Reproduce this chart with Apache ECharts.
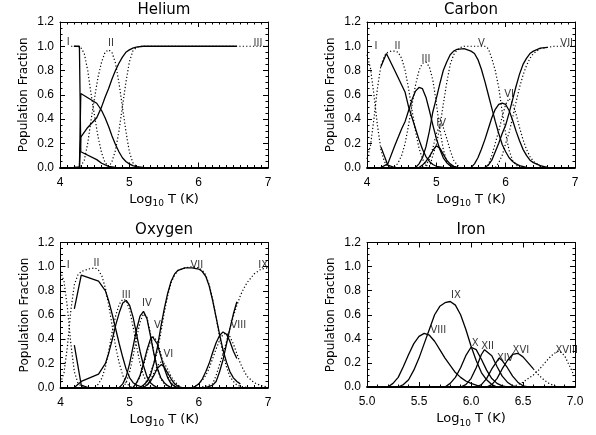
<!DOCTYPE html>
<html>
<head>
<meta charset="utf-8">
<script src="https://cdn.jsdelivr.net/npm/echarts@6/dist/echarts.min.js"></script>
<style>
html,body{margin:0;padding:0;background:#fff}
#chart{width:596px;height:435px}
</style>
</head>
<body>
<div id="chart"></div>
<script>
// Ionization equilibrium population fractions vs log10 T.
// Each curve is a list of [log10 T, fraction] samples.
// "sol" curves are drawn solid, "dot" curves dotted.

// ---- Helium ----
const heDotI   = [[4.16,1.0],[4.2,1.0],[4.25,1.0],[4.3,0.99],[4.35,0.94],[4.4,0.8],[4.45,0.6],[4.5,0.42],[4.55,0.25],[4.6,0.12],[4.65,0.04],[4.7,0.01],[4.75,0]];
const heDotII  = [[4.25,0],[4.3,0.01],[4.35,0.06],[4.4,0.2],[4.45,0.4],[4.5,0.58],[4.55,0.75],[4.6,0.87],[4.65,0.95],[4.7,0.97],[4.75,0.95],[4.8,0.86],[4.85,0.7],[4.9,0.5],[4.95,0.3],[5.0,0.13],[5.05,0.04],[5.1,0.01],[5.15,0]];
const heDotIII = [[4.7,0],[4.75,0.05],[4.8,0.14],[4.85,0.3],[4.9,0.5],[4.95,0.7],[5.0,0.87],[5.05,0.96],[5.1,0.99],[5.15,1.0],[6.5,1.0],[7.0,1.0]];
const heSolI   = [[4.2,1.0],[4.28,1.0],[4.3,0.13],[4.53,0.065],[4.6,0.035],[4.7,0.01],[4.8,0]];
const heSolII  = [[4.2,0],[4.28,0],[4.3,0.61],[4.53,0.53],[4.6,0.47],[4.65,0.41],[4.7,0.34],[4.75,0.26],[4.8,0.19],[4.85,0.13],[4.9,0.08],[4.95,0.05],[5.0,0.03],[5.05,0.015],[5.1,0.007],[5.2,0]];
const heSolIII = [[4.2,0],[4.28,0],[4.3,0.25],[4.4,0.33],[4.53,0.41],[4.6,0.5],[4.65,0.58],[4.7,0.65],[4.75,0.73],[4.8,0.8],[4.85,0.86],[4.9,0.91],[4.95,0.95],[5.0,0.97],[5.05,0.985],[5.1,0.993],[5.2,1.0],[6.55,1.0]];
const heLabels = [['I',4.12,1.035],['II',4.735,1.027],['III',6.856,1.02]];

// ---- Carbon ----
const cDotI   = [[4.0,0.93],[4.05,0.82],[4.1,0.6],[4.15,0.35],[4.2,0.15],[4.25,0.05],[4.3,0.01],[4.35,0]];
const cDotII  = [[4.0,0.07],[4.05,0.18],[4.1,0.4],[4.15,0.65],[4.2,0.84],[4.25,0.92],[4.3,0.95],[4.35,0.96],[4.4,0.96],[4.45,0.95],[4.5,0.9],[4.55,0.8],[4.6,0.65],[4.65,0.47],[4.7,0.3],[4.75,0.16],[4.8,0.07],[4.85,0.02],[4.9,0]];
const cDotIII = [[4.4,0],[4.45,0.04],[4.5,0.1],[4.55,0.2],[4.6,0.35],[4.65,0.52],[4.7,0.68],[4.75,0.8],[4.8,0.86],[4.85,0.87],[4.9,0.83],[4.95,0.72],[5.0,0.53],[5.05,0.32],[5.1,0.15],[5.15,0.05],[5.2,0.01],[5.25,0]];
const cDotIV  = [[4.8,0],[4.85,0.02],[4.9,0.07],[4.95,0.16],[5.0,0.28],[5.05,0.35],[5.1,0.33],[5.15,0.24],[5.2,0.14],[5.25,0.06],[5.3,0.02],[5.35,0]];
const cDotV   = [[4.9,0],[4.95,0.1],[5.0,0.19],[5.05,0.33],[5.1,0.52],[5.15,0.7],[5.2,0.85],[5.25,0.93],[5.3,0.97],[5.35,0.99],[5.4,1.0],[5.7,1.0],[5.75,0.98],[5.8,0.9],[5.85,0.8],[5.9,0.66],[5.95,0.46],[6.0,0.28],[6.05,0.14],[6.1,0.06],[6.15,0.02],[6.2,0]];
const cDotVI  = [[5.7,0],[5.75,0.02],[5.8,0.1],[5.85,0.2],[5.9,0.3],[5.95,0.42],[6.0,0.52],[6.05,0.57],[6.1,0.53],[6.15,0.44],[6.2,0.33],[6.25,0.23],[6.3,0.15],[6.35,0.09],[6.4,0.05],[6.45,0.03],[6.5,0.01],[6.6,0]];
const cDotVII = [[5.85,0],[5.9,0.04],[5.95,0.1],[6.0,0.2],[6.05,0.29],[6.1,0.41],[6.15,0.54],[6.2,0.66],[6.25,0.76],[6.3,0.84],[6.35,0.9],[6.4,0.94],[6.45,0.96],[6.5,0.98],[6.6,0.99],[6.7,1.0],[7.0,1.0]];
const cSolI   = [[4.2,0.17],[4.3,0.02],[4.4,0]];
const cSolII  = [[4.2,0.83],[4.28,0.94],[4.4,0.8],[4.5,0.68],[4.55,0.62],[4.6,0.5],[4.65,0.41],[4.7,0.32],[4.75,0.23],[4.8,0.15],[4.85,0.09],[4.9,0.05],[4.95,0.025],[5.0,0.01],[5.1,0]];
const cSolIII = [[4.2,0],[4.3,0.03],[4.4,0.18],[4.5,0.32],[4.55,0.38],[4.6,0.47],[4.65,0.56],[4.7,0.63],[4.75,0.66],[4.8,0.65],[4.85,0.58],[4.9,0.47],[4.95,0.35],[5.0,0.24],[5.05,0.15],[5.1,0.08],[5.15,0.04],[5.2,0.015],[5.3,0]];
const cSolIV  = [[4.75,0],[4.8,0.02],[4.85,0.05],[4.9,0.09],[4.95,0.14],[5.0,0.18],[5.05,0.16],[5.1,0.11],[5.15,0.06],[5.2,0.03],[5.25,0.01],[5.3,0]];
const cSolV   = [[4.7,0],[4.75,0.03],[4.8,0.08],[4.85,0.17],[4.9,0.3],[4.95,0.46],[5.0,0.57],[5.05,0.69],[5.1,0.8],[5.15,0.87],[5.2,0.93],[5.25,0.96],[5.3,0.975],[5.4,0.98],[5.5,0.96],[5.55,0.94],[5.6,0.89],[5.65,0.81],[5.7,0.71],[5.75,0.6],[5.8,0.49],[5.85,0.38],[5.9,0.28],[5.95,0.19],[6.0,0.13],[6.05,0.08],[6.1,0.05],[6.15,0.03],[6.2,0.015],[6.3,0]];
const cSolVI  = [[5.5,0],[5.55,0.03],[5.6,0.08],[5.65,0.15],[5.7,0.23],[5.75,0.32],[5.8,0.41],[5.85,0.48],[5.9,0.52],[5.95,0.53],[6.0,0.52],[6.05,0.47],[6.1,0.39],[6.15,0.3],[6.2,0.22],[6.25,0.15],[6.3,0.1],[6.35,0.06],[6.4,0.04],[6.5,0.015],[6.6,0]];
const cSolVII = [[5.7,0],[5.75,0.02],[5.8,0.06],[5.85,0.13],[5.9,0.2],[5.95,0.28],[6.0,0.35],[6.05,0.45],[6.1,0.56],[6.15,0.67],[6.2,0.77],[6.25,0.85],[6.3,0.9],[6.35,0.94],[6.4,0.96],[6.5,0.985],[6.6,0.99]];
const cLabels = [['I',4.13,1.0],['II',4.44,1.0],['III',4.85,0.89],['IV',5.07,0.364],['V',5.65,1.024],['VI',6.05,0.6],['VII',6.88,1.024]];

// ---- Oxygen ----
const oDotI    = [[4.0,0.96],[4.05,0.88],[4.1,0.66],[4.15,0.36],[4.2,0.13],[4.25,0.04],[4.3,0.01],[4.35,0]];
const oDotII   = [[4.0,0.04],[4.05,0.12],[4.1,0.34],[4.15,0.64],[4.2,0.85],[4.25,0.93],[4.3,0.96],[4.4,0.98],[4.5,0.99],[4.55,0.97],[4.6,0.92],[4.65,0.82],[4.7,0.67],[4.75,0.5],[4.8,0.33],[4.85,0.2],[4.9,0.1],[4.95,0.04],[5.0,0.01],[5.05,0]];
const oDotIII  = [[4.5,0],[4.55,0.03],[4.6,0.08],[4.65,0.17],[4.7,0.31],[4.75,0.47],[4.8,0.6],[4.85,0.69],[4.9,0.73],[4.95,0.72],[5.0,0.64],[5.05,0.5],[5.1,0.34],[5.15,0.2],[5.2,0.1],[5.25,0.04],[5.3,0.01],[5.35,0]];
const oDotIV   = [[4.9,0],[4.95,0.04],[5.0,0.13],[5.05,0.26],[5.1,0.41],[5.15,0.54],[5.2,0.61],[5.25,0.58],[5.3,0.45],[5.35,0.29],[5.4,0.16],[5.45,0.07],[5.5,0.03],[5.55,0.01],[5.6,0]];
const oDotV    = [[5.05,0],[5.1,0.03],[5.15,0.09],[5.2,0.18],[5.25,0.29],[5.3,0.38],[5.35,0.42],[5.4,0.38],[5.45,0.28],[5.5,0.17],[5.55,0.09],[5.6,0.04],[5.65,0.01],[5.7,0]];
const oDotVI   = [[5.2,0],[5.25,0.02],[5.3,0.06],[5.35,0.12],[5.4,0.18],[5.45,0.21],[5.5,0.2],[5.55,0.15],[5.6,0.09],[5.65,0.05],[5.7,0.02],[5.75,0]];
const oDotVII  = [[5.2,0],[5.25,0.05],[5.3,0.12],[5.35,0.2],[5.4,0.3],[5.45,0.45],[5.5,0.62],[5.55,0.76],[5.6,0.87],[5.65,0.93],[5.7,0.97],[5.8,0.99],[5.9,1.0],[6.0,0.99],[6.05,0.97],[6.1,0.93],[6.15,0.85],[6.2,0.73],[6.25,0.58],[6.3,0.42],[6.35,0.28],[6.4,0.17],[6.45,0.09],[6.5,0.05],[6.55,0.02],[6.6,0.01],[6.7,0]];
const oDotVIII = [[5.9,0],[5.95,0.01],[6.0,0.03],[6.05,0.06],[6.1,0.1],[6.15,0.16],[6.2,0.24],[6.25,0.32],[6.3,0.39],[6.35,0.44],[6.4,0.45],[6.45,0.42],[6.5,0.36],[6.55,0.28],[6.6,0.2],[6.65,0.14],[6.7,0.09],[6.8,0.04],[6.9,0.015],[7.0,0.005]];
const oDotIX   = [[6.0,0],[6.1,0.01],[6.2,0.03],[6.25,0.1],[6.3,0.19],[6.35,0.28],[6.4,0.38],[6.45,0.49],[6.5,0.59],[6.55,0.68],[6.6,0.76],[6.65,0.82],[6.7,0.87],[6.8,0.94],[6.9,0.98],[7.0,0.99]];
const oSolI    = [[4.2,0.35],[4.3,0.02],[4.4,0]];
const oSolII   = [[4.2,0.65],[4.3,0.93],[4.55,0.88],[4.65,0.8],[4.7,0.71],[4.75,0.6],[4.8,0.48],[4.85,0.36],[4.9,0.25],[4.95,0.15],[5.0,0.08],[5.05,0.04],[5.1,0.02],[5.2,0]];
const oSolIII  = [[4.2,0],[4.3,0.05],[4.55,0.11],[4.65,0.2],[4.7,0.29],[4.75,0.4],[4.8,0.52],[4.85,0.62],[4.9,0.7],[4.95,0.72],[5.0,0.68],[5.05,0.58],[5.1,0.44],[5.15,0.3],[5.2,0.18],[5.25,0.09],[5.3,0.04],[5.35,0.015],[5.4,0]];
const oSolIV   = [[4.85,0],[4.9,0.03],[4.95,0.09],[5.0,0.2],[5.05,0.34],[5.1,0.48],[5.15,0.59],[5.2,0.63],[5.25,0.57],[5.3,0.43],[5.35,0.28],[5.4,0.16],[5.45,0.08],[5.5,0.04],[5.55,0.015],[5.6,0]];
const oSolV    = [[5.05,0],[5.1,0.04],[5.15,0.1],[5.2,0.2],[5.25,0.31],[5.3,0.4],[5.33,0.42],[5.4,0.36],[5.45,0.26],[5.5,0.16],[5.55,0.08],[5.6,0.03],[5.65,0.01],[5.7,0]];
const oSolVI   = [[5.2,0],[5.25,0.02],[5.3,0.05],[5.35,0.1],[5.4,0.16],[5.46,0.19],[5.5,0.17],[5.55,0.12],[5.6,0.07],[5.65,0.03],[5.7,0.01],[5.75,0]];
const oSolVII  = [[5.15,0],[5.2,0.02],[5.25,0.05],[5.3,0.1],[5.35,0.2],[5.4,0.33],[5.45,0.5],[5.5,0.65],[5.55,0.78],[5.6,0.88],[5.65,0.94],[5.7,0.97],[5.8,0.99],[5.9,0.99],[6.0,0.98],[6.05,0.96],[6.1,0.92],[6.15,0.84],[6.2,0.72],[6.25,0.58],[6.3,0.44],[6.35,0.31],[6.4,0.21],[6.45,0.13],[6.5,0.08],[6.55,0.05],[6.6,0.03]];
const oSolVIII = [[5.9,0],[5.95,0.01],[6.0,0.03],[6.05,0.07],[6.1,0.13],[6.15,0.2],[6.2,0.29],[6.25,0.37],[6.3,0.43],[6.35,0.46],[6.4,0.44],[6.45,0.38],[6.5,0.3],[6.55,0.24]];
const oSolIX   = [[6.1,0],[6.15,0.01],[6.2,0.02],[6.25,0.05],[6.3,0.13],[6.35,0.23],[6.4,0.36],[6.45,0.49],[6.5,0.61],[6.55,0.71]];
const oLabels = [['I',4.11,1.014],['II',4.52,1.028],['III',4.95,0.766],['IV',5.25,0.697],['V',5.4,0.517],['VI',5.56,0.275],['VII',5.97,1.014],['VIII',6.57,0.517],['IX',6.93,1.014]];

// ---- Iron ----
const feSolVIII = [[5.2,0],[5.25,0.03],[5.3,0.08],[5.35,0.17],[5.4,0.27],[5.45,0.36],[5.5,0.42],[5.55,0.445],[5.6,0.43],[5.65,0.38],[5.7,0.31],[5.75,0.24],[5.8,0.18],[5.85,0.12],[5.9,0.08],[5.95,0.05],[6.0,0.03],[6.05,0.015],[6.1,0]];
const feSolIX   = [[5.3,0],[5.35,0.02],[5.4,0.06],[5.45,0.14],[5.5,0.24],[5.55,0.36],[5.6,0.48],[5.65,0.6],[5.7,0.67],[5.75,0.7],[5.8,0.71],[5.85,0.68],[5.9,0.6],[5.95,0.48],[6.0,0.34],[6.05,0.22],[6.1,0.12],[6.15,0.06],[6.2,0.02],[6.25,0]];
const feSolX    = [[5.75,0],[5.8,0.03],[5.85,0.08],[5.9,0.16],[5.95,0.26],[6.0,0.33],[6.05,0.31],[6.1,0.23],[6.15,0.14],[6.2,0.07],[6.25,0.03],[6.3,0.01],[6.35,0]];
const feSolXII  = [[5.9,0],[5.95,0.02],[6.0,0.07],[6.05,0.16],[6.1,0.27],[6.13,0.31],[6.2,0.26],[6.25,0.17],[6.3,0.09],[6.35,0.04],[6.4,0.01],[6.45,0]];
const feSolXIV  = [[6.05,0],[6.1,0.02],[6.15,0.07],[6.2,0.15],[6.27,0.24],[6.3,0.22],[6.35,0.16],[6.4,0.09],[6.45,0.04],[6.5,0.01],[6.55,0]];
const feSolXVI  = [[6.15,0],[6.2,0.02],[6.25,0.07],[6.3,0.15],[6.35,0.22],[6.4,0.27],[6.45,0.28],[6.5,0.25],[6.55,0.2],[6.6,0.15]];
const feDotXVI  = [[6.6,0.15],[6.65,0.1],[6.7,0.06],[6.75,0.03],[6.8,0.01],[6.85,0]];
const feDotXVIII= [[6.4,0],[6.45,0.02],[6.5,0.04],[6.55,0.07],[6.6,0.1],[6.65,0.14],[6.7,0.19],[6.75,0.24],[6.8,0.28],[6.85,0.3],[6.9,0.26],[6.95,0.17],[7.0,0.08]];
const feLabels = [['VIII',5.686,0.473],['IX',5.856,0.764],['X',6.04,0.363],['XII',6.16,0.335],['XIV',6.33,0.238],['XVI',6.48,0.307],['XVIII',6.92,0.307]];

// Axis tick values
const yTicks = [0, 0.2, 0.4, 0.6, 0.8, 1.0, 1.2];

const panels = [
  {title:'Helium', tx:164, ty:10, grid:{left:60, top:22, width:208, height:145.5},
   xr:[4,7], xStep:1, xMinor:10, xDigits:0,
   solid:[heSolI,heSolII,heSolIII], dotted:[heDotI,heDotII,heDotIII], labels:heLabels},
  {title:'Carbon', tx:471, ty:10, grid:{left:367, top:22, width:208, height:145.5},
   xr:[4,7], xStep:1, xMinor:10, xDigits:0,
   solid:[cSolI,cSolII,cSolIII,cSolIV,cSolV,cSolVI,cSolVII], dotted:[cDotI,cDotII,cDotIII,cDotIV,cDotV,cDotVI,cDotVII], labels:cLabels},
  {title:'Oxygen', tx:164, ty:230, grid:{left:60.5, top:242.5, width:207.5, height:145},
   xr:[4,7], xStep:1, xMinor:10, xDigits:0,
   solid:[oSolI,oSolII,oSolIII,oSolIV,oSolV,oSolVI,oSolVII,oSolVIII,oSolIX], dotted:[oDotI,oDotII,oDotIII,oDotIV,oDotV,oDotVI,oDotVII,oDotVIII,oDotIX], labels:oLabels},
  {title:'Iron', tx:471, ty:230, grid:{left:367, top:242.5, width:208, height:144.5},
   xr:[5,7], xStep:0.5, xMinor:5, xDigits:1,
   solid:[feSolVIII,feSolIX,feSolX,feSolXII,feSolXIV,feSolXVI], dotted:[feDotXVI,feDotXVIII], labels:feLabels}
];

const TXT = 'DejaVu Sans';
const NUM = 'Liberation Sans, Arial, sans-serif';
const BLACK = '#000';

const option = {animation:false, backgroundColor:'#fff', grid:[], xAxis:[], yAxis:[], series:[], graphic:[]};

panels.forEach((p, i) => {
  option.grid.push(Object.assign({containLabel:false}, p.grid));
  const frame = w => ({show:true, onZero:false, lineStyle:{color:BLACK, width:w}});
  const tick = {show:true, inside:true, length:5, lineStyle:{color:BLACK, width:1}};
  const minor = n => ({show:true, splitNumber:n, length:2.5, lineStyle:{color:BLACK, width:1}});
  const xBase = {type:'value', gridIndex:i, min:p.xr[0], max:p.xr[1], interval:p.xStep,
    axisTick:tick, minorTick:minor(p.xMinor), splitLine:{show:false}, minorSplitLine:{show:false}};
  // bottom axis: the zero-level of every curve sits on it, so it reads heavier
  option.xAxis.push(Object.assign({}, xBase, {
    position:'bottom', axisLine:frame(1.8),
    axisLabel:{color:BLACK, fontFamily:NUM, fontSize:12, margin:9,
      formatter: v => Number(v).toFixed(p.xDigits)},
    name:'Log{s|10} T (K)', nameLocation:'middle', nameGap:23,
    nameTextStyle:{color:BLACK, fontFamily:TXT, fontSize:13,
      rich:{s:{fontFamily:TXT, fontSize:9, color:BLACK, padding:[9,0,0,0]}}}
  }));
  option.xAxis.push(Object.assign({}, xBase, {position:'top', axisLine:frame(1), axisLabel:{show:false}}));
  const yBase = {type:'value', gridIndex:i, min:0, max:1.2, interval:0.2,
    axisLine:frame(1), axisTick:tick, minorTick:minor(4), splitLine:{show:false}, minorSplitLine:{show:false}};
  option.yAxis.push(Object.assign({}, yBase, {
    position:'left',
    axisLabel:{color:BLACK, fontFamily:NUM, fontSize:12, margin:6,
      customValues:yTicks, formatter: v => Number(v).toFixed(1)},
    name:'Population Fraction', nameLocation:'middle', nameGap:30,
    nameTextStyle:{color:BLACK, fontFamily:TXT, fontSize:12}
  }));
  option.yAxis.push(Object.assign({}, yBase, {position:'right', axisLabel:{show:false}}));

  const xi = 2 * i, yi = 2 * i;
  p.dotted.forEach(d => option.series.push({
    type:'line', xAxisIndex:xi, yAxisIndex:yi, data:d, showSymbol:false, symbol:'none', smooth:false,
    lineStyle:{color:BLACK, width:1.2, type:[1.2, 2.2]}, silent:true
  }));
  p.solid.forEach(d => option.series.push({
    type:'line', xAxisIndex:xi, yAxisIndex:yi, data:d, showSymbol:false, symbol:'none', smooth:false,
    lineStyle:{color:BLACK, width:1.3}, silent:true
  }));
  option.series.push({
    type:'scatter', xAxisIndex:xi, yAxisIndex:yi, symbolSize:1, silent:true,
    itemStyle:{color:'rgba(0,0,0,0)'},
    data:p.labels.map(l => ({name:l[0], value:[l[1], l[2]]})),
    label:{show:true, position:'inside', formatter:'{b}', color:BLACK, fontFamily:TXT, fontSize:10}
  });
  option.graphic.push({type:'text', x:p.tx, y:p.ty, silent:true,
    style:{text:p.title, fill:BLACK, font:'15px "DejaVu Sans"', align:'center', verticalAlign:'middle'}});
});

const chart = echarts.init(document.getElementById('chart'), null, {renderer:'canvas'});
chart.setOption(option);
</script>
</body>
</html>
